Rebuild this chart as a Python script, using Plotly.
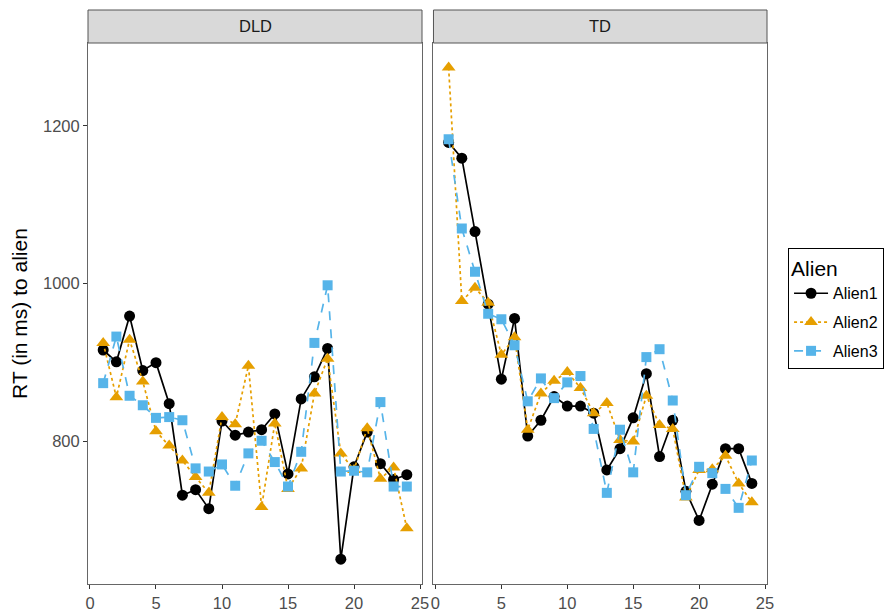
import plotly.graph_objects as go

trials = list(range(1, 25))

dld_alien1 = [916, 901, 959, 890, 900, 848, 732, 739, 715, 826, 808, 812, 815, 835, 759, 854,
              882, 918, 651, 768, 812, 772, 752, 758]
dld_alien2 = [925, 856, 929, 876, 813, 795, 776, 755, 735, 831, 822, 896, 717, 823, 740, 766,
              861, 905, 785, 764, 817, 753, 767, 690]
dld_alien3 = [874, 933, 858, 846, 830, 831, 827, 766, 762, 771, 744, 785, 801, 774, 743, 787,
              925, 998, 762, 763, 761, 850, 743, 743]

td_alien1 = [1179, 1159, 1066, 974, 879, 956, 807, 827, 857, 845, 845, 836, 764, 791, 830, 886,
             781, 827, 737, 700, 746, 791, 791, 747]
td_alien2 = [1274, 978, 995, 976, 910, 932, 815, 861, 877, 888, 868, 836, 849, 802, 800, 858,
             821, 816, 729, 764, 765, 782, 747, 723]
td_alien3 = [1183, 1070, 1015, 962, 955, 922, 851, 880, 855, 875, 883, 816, 735, 815, 761, 907,
             917, 852, 732, 768, 760, 740, 716, 776]

groups = ["DLD", "TD"]
series_names = ["Alien1", "Alien2", "Alien3"]
x_ticks = [0, 5, 10, 15, 20, 25]
y_ticks = [800, 1000, 1200]

data = {
    "DLD": [dld_alien1, dld_alien2, dld_alien3],
    "TD": [td_alien1, td_alien2, td_alien3],
}

colors = ["#000000", "#E69F00", "#56B4E9"]
symbols = ["circle", "triangle-up", "square"]
msizes = [11, 12, 10]
dashes = ["solid", "dot", "dash"]

FONT = "Liberation Sans, Arial, sans-serif"

fig = go.Figure()
for gi, g in enumerate(groups):
    xa = "x" if gi == 0 else "x2"
    ya = "y" if gi == 0 else "y2"
    for si, name in enumerate(series_names):
        fig.add_trace(go.Scatter(
            x=trials, y=data[g][si], mode="lines+markers", name=name,
            legendgroup=name, showlegend=(gi == 0),
            xaxis=xa, yaxis=ya,
            line=dict(color=colors[si], width=1.7, dash=dashes[si]),
            marker=dict(color=colors[si], symbol=symbols[si], size=msizes[si],
                        line=dict(width=0)),
        ))

axis_common = dict(
    showgrid=False, zeroline=False, showline=True, mirror=True,
    linecolor="#666666", linewidth=1, automargin=False,
)

xr = [-0.15, 25.15]
yr = [619.5, 1305]
TICK = 16.5
dom1 = [0, 0.4919]
dom2 = [0.5088, 1]

fig.update_layout(
    width=892, height=611,
    margin=dict(l=80, r=133, t=35, b=35),
    plot_bgcolor="white", paper_bgcolor="white",
    font=dict(family=FONT, color="#4D4D4D"),
    xaxis=dict(domain=dom1, range=xr, tickvals=x_ticks, ticks="outside",
               ticklen=4, tickcolor="#333333", tickfont=dict(size=TICK, color="#4D4D4D"),
               **axis_common),
    xaxis2=dict(domain=dom2, range=xr, tickvals=x_ticks, ticks="outside",
                ticklen=4, tickcolor="#333333", tickfont=dict(size=TICK, color="#4D4D4D"),
                **axis_common),
    yaxis=dict(range=yr, tickvals=y_ticks, ticks="outside", ticklen=4, tickcolor="#333333",
               tickfont=dict(size=TICK, color="#4D4D4D"),
               title=dict(text="RT (in ms) to alien", font=dict(size=21, color="#000000"),
                          standoff=14),
               **axis_common),
    yaxis2=dict(range=yr, anchor="x2", matches="y", showticklabels=False, ticks="",
                **axis_common),
    legend=dict(
        title=dict(text="Alien", font=dict(size=21, color="#000000")),
        font=dict(size=16, color="#000000"),
        x=1.031, y=0.621, xanchor="left", yanchor="top",
        bordercolor="#000000", borderwidth=1, bgcolor="white",
        tracegroupgap=5, itemwidth=34,
    ),
)

# facet strips
strip_h = 33 / 541
for gi, g in enumerate(groups):
    dom = dom1 if gi == 0 else dom2
    fig.add_shape(type="rect", xref="paper", yref="paper",
                  x0=dom[0], x1=dom[1], y0=1.0, y1=1.0 + strip_h,
                  fillcolor="#D9D9D9", line=dict(color="#555555", width=1))
    fig.add_annotation(text=g, xref="paper", yref="paper",
                       x=(dom[0] + dom[1]) / 2, y=1.0 + strip_h / 2,
                       showarrow=False, font=dict(size=TICK, color="#1A1A1A", family=FONT),
                       xanchor="center", yanchor="middle")

fig.write_html("out.html")
